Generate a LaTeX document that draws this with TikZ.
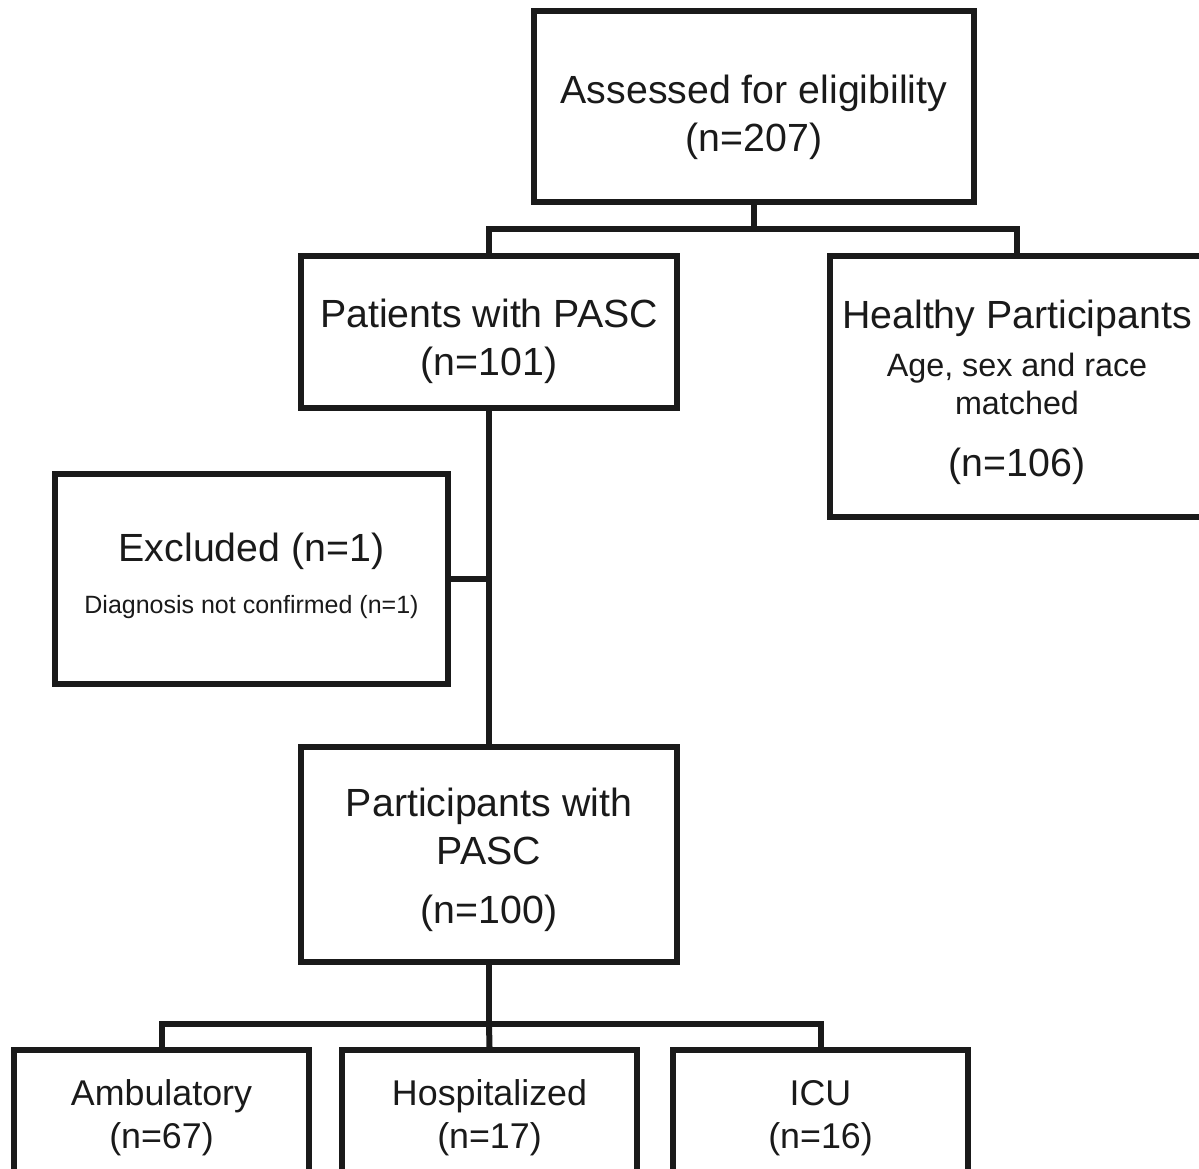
\documentclass[tikz,border=0pt]{standalone}
\usepackage{fontspec}
\setmainfont{Liberation Sans}
\definecolor{ink}{HTML}{1A1A1A}
\newcommand{\bigf}{\fontsize{39.3}{48}\selectfont}
\newcommand{\midf}{\fontsize{32.3}{38}\selectfont}
\newcommand{\smlf}{\fontsize{25}{30}\selectfont}
\begin{document}
\begin{tikzpicture}[x=1pt,y=-1pt,
  box/.style={draw=ink, line width=6pt, inner sep=0pt, align=center, text=ink, fill=white},
  big/.style={font=\bigf},
  low/.style={font=\fontsize{35.8}{43}\selectfont},
  conn/.style={draw=ink, line width=6pt, line cap=rect}]
\useasboundingbox (0,0) rectangle (1199,1168);
\clip (0,0) rectangle (1199,1168);
\fill[white] (0,0) rectangle (1199,1168);

\coordinate (j1) at (754,229);
\coordinate (j2) at (489,1024);

\node[box, big, minimum width=440pt, minimum height=191pt] (elig) at (754,106.5)
  {\rule{0pt}{50pt}Assessed for eligibility\\(n=207)};
\node[box, big, minimum width=376pt, minimum height=152pt] (pasc) at (489,332)
  {\rule{0pt}{48pt}Patients with PASC\\(n=101)};
\node[box, big, minimum width=374pt, minimum height=261pt] (healthy) at (1017,386.5)
  {\rule{0pt}{40pt}Healthy Participants\\[0pt]
   \midf Age, sex and race\\[-10pt]
   \midf matched\\[14pt]
   (n=106)};
\node[box, big, minimum width=393pt, minimum height=210pt] (excl) at (251.5,579)
  {Excluded (n=1)\\[4pt]
   \smlf Diagnosis not confirmed (n=1)\rule[-11pt]{0pt}{1pt}};
\node[box, big, minimum width=376pt, minimum height=215pt] (part) at (489,854.5)
  {\rule{0pt}{40pt}Participants with\\PASC\\[11pt](n=100)};
\node[box, low, minimum width=295pt, minimum height=130pt] (amb) at (161.5,1115)
  {\rule{0pt}{31pt}Ambulatory\\(n=67)};
\node[box, low, minimum width=295pt, minimum height=130pt] (hosp) at (489.5,1115)
  {\rule{0pt}{31pt}Hospitalized\\(n=17)};
\node[box, low, minimum width=295pt, minimum height=130pt] (icu) at (820.5,1115)
  {\rule{0pt}{31pt}ICU\\(n=16)};

\draw[conn] (elig.south) -- (j1);
\draw[conn] (pasc.north) |- (j1) -| (healthy.north);
\draw[conn] (pasc.south) -- (part.north);
\draw[conn] (excl.east) -- (excl.east -| pasc.south);
\draw[conn] (part.south) -- (j2);
\draw[conn] (amb.north) |- (j2) -| (icu.north);
\draw[conn] (j2) -- (hosp.north);
\end{tikzpicture}
\end{document}
